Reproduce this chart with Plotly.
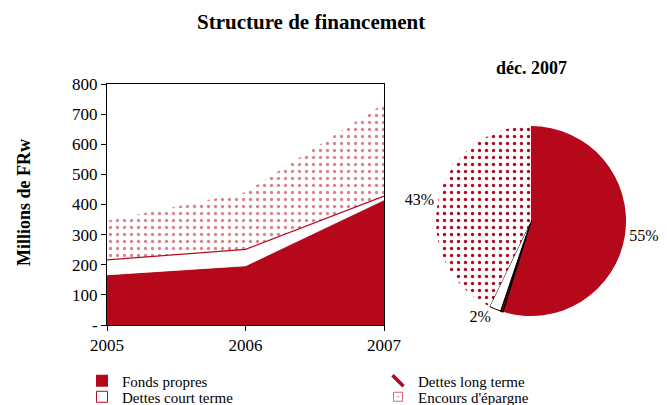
import plotly.graph_objects as go

years = ["2005", "2006", "2007"]
fonds_propres = [165, 195, 413]
dettes_long = [1, 1, 2]
dettes_court = [50, 55, 13]
encours = [130, 190, 307]

pie_labels = ["Fonds propres", "Dettes long terme", "Dettes court terme", "Encours d'épargne"]
pie_values = [55, 0.4, 2, 43]

y_ticks = [0, 100, 200, 300, 400, 500, 600, 700, 800]
y_ticktext = ["-", "100", "200", "300", "400", "500", "600", "700", "800"]

RED = "#B5091B"
FONT = "Liberation Serif"
W, H = 667, 405
PAT = dict(shape=".", fgcolor=RED, bgcolor="white", size=7, solidity=0.18)

fig = go.Figure()
xs = [int(y) for y in years]

fig.add_trace(go.Scatter(x=xs, y=fonds_propres, name="Fonds propres", stackgroup="a",
                         mode="none", fillcolor=RED, showlegend=False))
fig.add_trace(go.Scatter(x=xs, y=dettes_long, name="Dettes long terme", stackgroup="a",
                         mode="none", fillcolor=RED, showlegend=False))
fig.add_trace(go.Scatter(x=xs, y=dettes_court, name="Dettes court terme", stackgroup="a",
                         mode="lines", line=dict(color=RED, width=1.2), fillcolor="white",
                         showlegend=False))
fig.add_trace(go.Scatter(x=xs, y=encours, name="Encours d'épargne", stackgroup="a",
                         mode="none", fillcolor="white", fillpattern=PAT, showlegend=False))

# legend entries
fig.add_trace(go.Scatter(x=[None], y=[None], mode="markers", name="Fonds propres",
                         marker=dict(symbol="square", size=12, color=RED), legend="legend"))
fig.add_trace(go.Scatter(x=[None], y=[None], mode="markers", name="Dettes court terme",
                         marker=dict(symbol="square", size=11, color="white",
                                     line=dict(color=RED, width=1)), legend="legend3"))
fig.add_trace(go.Scatter(x=[None], y=[None], mode="markers", name="Dettes long terme",
                         marker=dict(symbol="line-nw", size=11, color=RED,
                                     line=dict(color=RED, width=3.5)), legend="legend2"))
fig.add_trace(go.Scatter(x=[None], y=[None], mode="markers", name="Encours d'épargne",
                         marker=dict(symbol="square-open-dot", size=9, color="rgba(181,9,27,0.6)",
                                     line=dict(color="rgba(181,9,27,0.35)", width=1)),
                         legend="legend4"))

fig.add_trace(go.Pie(labels=pie_labels, values=pie_values, sort=False, direction="clockwise",
                     rotation=0, showlegend=False,
                     domain=dict(x=[435 / W, 627 / W], y=[1 - 316 / H, 1 - 126 / H]),
                     marker=dict(colors=[RED, RED, "white", "white"],
                                 line=dict(color=["rgba(0,0,0,0)", "black", "black", "rgba(0,0,0,0)"],
                                           width=[0, 1.5, 1, 0]),
                                 pattern=dict(shape=["", "", "", "."], fgcolor=RED, bgcolor="white",
                                              size=7, solidity=0.18)),
                     textposition="outside",
                     texttemplate=["%{percent:.0%}", "", "%{percent:.0%}", "%{percent:.0%}"],
                     textfont=dict(family=FONT, size=16, color="black"),
                     hoverinfo="label+percent"))


def leg(xpx, ypx):
    return dict(x=xpx / W, y=1 - ypx / H, xref="container", yref="container",
                xanchor="left", yanchor="middle", orientation="v",
                font=dict(size=15), bgcolor="rgba(0,0,0,0)", itemwidth=30, traceorder="normal")


fig.update_layout(
    width=W, height=H,
    margin=dict(l=0, r=0, t=0, b=0, autoexpand=False),
    paper_bgcolor="white", plot_bgcolor="white",
    font=dict(family=FONT, size=16, color="black"),
    showlegend=True,
    xaxis=dict(domain=[107 / W, 384 / W], range=[2005, 2007], tickvals=xs, ticktext=years,
               showline=True, linecolor="black", linewidth=1, mirror=True,
               ticks="outside", ticklen=5, tickcolor="black", showgrid=False, zeroline=False,
               tickfont=dict(size=17), automargin=False),
    yaxis=dict(domain=[1 - 325 / H, 1 - 84 / H], range=[0, 800], tickvals=y_ticks, ticktext=y_ticktext,
               showline=True, linecolor="black", linewidth=1, mirror=True,
               ticks="outside", ticklen=5, tickcolor="black", showgrid=False, zeroline=False,
               tickfont=dict(size=17), automargin=False),
    legend=leg(82, 381),
    legend3=leg(82, 397),
    legend2=leg(378, 381),
    legend4=leg(378, 397),
    annotations=[
        dict(text="<b>Structure de financement</b>", x=311 / W, y=1 - 22 / H, xref="paper", yref="paper",
             showarrow=False, font=dict(size=21), xanchor="center", yanchor="middle"),
        dict(text="<b>déc. 2007</b>", x=531 / W, y=1 - 68 / H, xref="paper", yref="paper",
             showarrow=False, font=dict(size=18), xanchor="center", yanchor="middle"),
        dict(text="<b>Millions de FRw</b>", x=24 / W, y=1 - 203 / H, xref="paper", yref="paper",
             showarrow=False, font=dict(size=18), textangle=-90, xanchor="center", yanchor="middle"),
    ],
)

fig.write_html("out.html", config={"displayModeBar": False},
               post_script="document.body.style.margin='0';document.body.style.overflow='hidden';")
